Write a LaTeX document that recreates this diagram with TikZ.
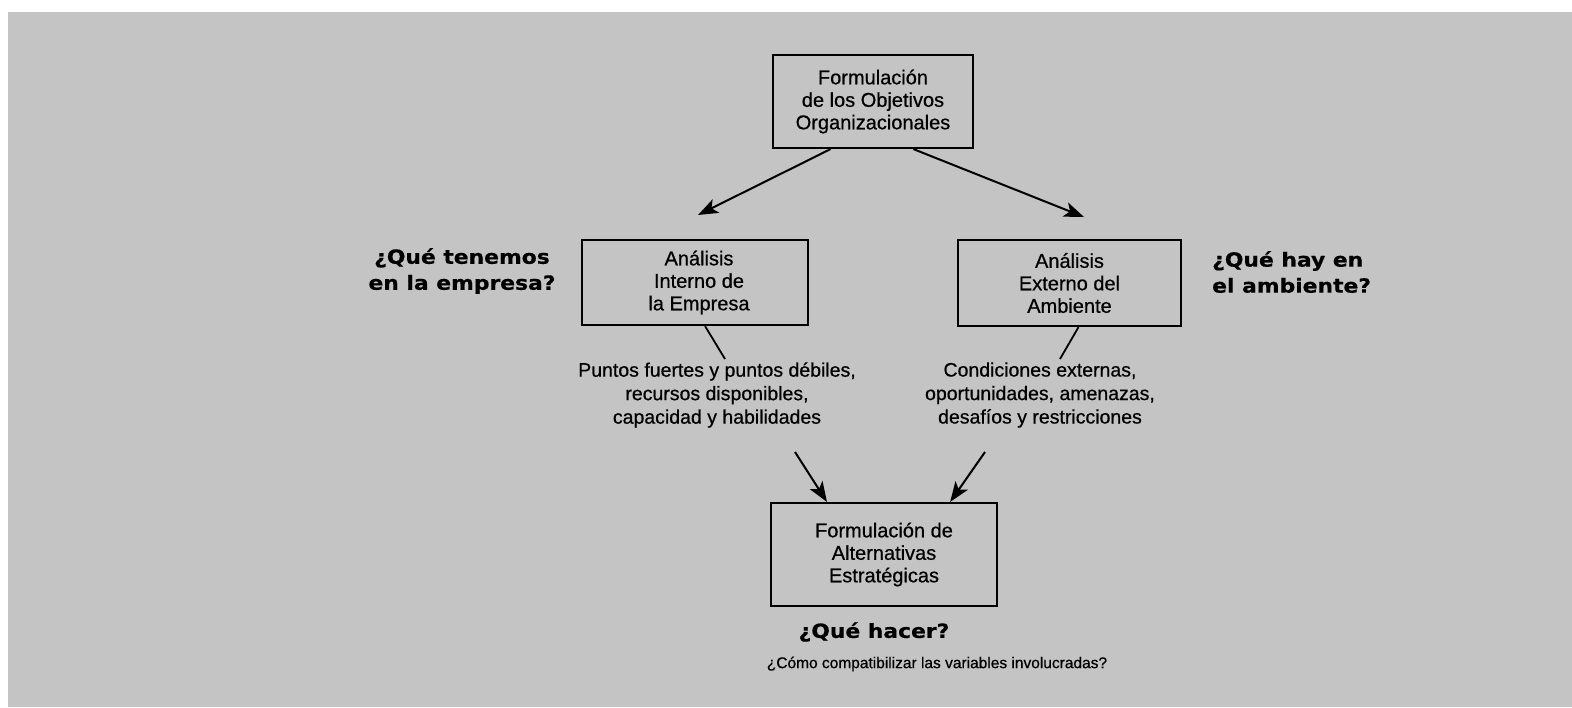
\documentclass[tikz,border=0pt]{standalone}
\usepackage{fontspec}
\setmainfont{Liberation Sans}[FakeBold=0.6]
\newfontfamily\qfont[FakeStretch=1.12,FakeBold=0.5]{DejaVu Sans}
\usetikzlibrary{arrows.meta,calc}
\begin{document}
\begin{tikzpicture}[x=1pt,y=-1pt,
  box/.style={draw, line width=2.2pt, align=center, inner sep=0pt, font=\fontsize{20}{22.5}\selectfont},
  lbl/.style={align=center, inner sep=0pt, font=\fontsize{19.5}{23.5}\selectfont},
  qlbl/.style={inner sep=0pt, font=\qfont\bfseries\fontsize{19.5}{26}\selectfont},
  arr/.style={line width=2pt, -{Stealth[length=20pt,width=15pt,inset=5pt]}},
  ln/.style={line width=1.8pt}]
\useasboundingbox (0,0) rectangle (1572,707);
\fill[black!23] (8,12) rectangle (1572,707);

\node[box, minimum width=200pt, minimum height=93pt] (top) at (873,101.5)
  {Formulación\\de los Objetivos\\Organizacionales};
\node[box, minimum width=226pt, minimum height=85pt] (left) at (695,282.5)
  {\hspace*{8pt}Análisis\\\hspace*{8pt}Interno de\\\hspace*{8pt}la Empresa};
\node[box, minimum width=223pt, minimum height=86pt] (right) at (1069.5,283)
  {Análisis\\Externo del\\Ambiente};
\node[box, minimum width=226pt, minimum height=103pt] (bot) at (884,554.5)
  {Formulación de\\Alternativas\\Estratégicas};

\node[qlbl, align=center] (qleft) at (462,271) {¿Qué tenemos\\en la empresa?};
\node[qlbl, align=left, anchor=west] (qright) at (1212,272) {¿Qué hay en\\el ambiente?};
\node[qlbl] (qbot) at (874,632) {¿Qué hacer?};

\node[lbl] (pf) at (717,395) {Puntos fuertes y puntos débiles,\\recursos disponibles,\\capacidad y habilidades};
\node[lbl] (ce) at (1040,395) {Condiciones externas,\\oportunidades, amenazas,\\desafíos y restricciones};
\node[lbl, font=\fontsize{15.5}{20}\selectfont] (como) at (937,664) {¿Cómo compatibilizar las variables involucradas?};

\coordinate (tipL) at (698,215);
\coordinate (tipR) at (1084,217);
\coordinate (pfTop) at (725,359);
\coordinate (ceTop) at (1060,359);
\coordinate (pfBot) at (795,452);
\coordinate (ceBot) at (985,452);

\draw[arr] ($(top.south west)!0.29!(top.south east)$) -- (tipL);
\draw[arr] ($(top.south west)!0.70!(top.south east)$) -- (tipR);
\draw[ln] ($(left.south west)!0.544!(left.south east)$) -- (pfTop);
\draw[ln] ($(right.south west)!0.54!(right.south east)$) -- (ceTop);
\draw[arr] (pfBot) -- ($(bot.north west)!0.25!(bot.north east)$);
\draw[arr] (ceBot) -- ($(bot.north west)!0.79!(bot.north east)$);
\end{tikzpicture}
\end{document}
